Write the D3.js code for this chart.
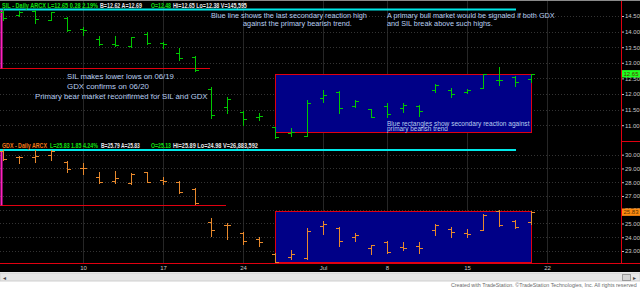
<!DOCTYPE html>
<html>
<head>
<meta charset="utf-8">
<script src="https://cdn.jsdelivr.net/npm/d3@7"></script>
<style>
  html, body { margin: 0; padding: 0; background: #fff; }
  svg { display: block; font-family: "Liberation Sans", Arial, sans-serif; }
</style>
</head>
<body>
<div id="chart"></div>
<script>
// trading days 03 Jun - 19 Jul 2013 (04 Jul holiday is not a bar)
const days = ['06/03','06/04','06/05','06/06','06/07',
  '06/10','06/11','06/12','06/13','06/14',
  '06/17','06/18','06/19','06/20','06/21',
  '06/24','06/25','06/26','06/27','06/28',
  '07/01','07/02','07/03','07/05',
  '07/08','07/09','07/10','07/11','07/12',
  '07/15','07/16','07/17','07/18','07/19'];

// SIL daily OHLC
const silOpen  = [14.62,14.52,14.66,14.38,14.45, 14.07,13.76,13.60,13.53,13.93, 13.65,13.30,13.20,12.15,11.59, 11.42,11.26,10.93,10.76,10.65, 11.86,12.07,11.62,11.51, 11.62,11.54,11.62,12.13,12.14, 12.06,12.18,12.45,12.54,12.48];
const silHigh  = [14.72,14.66,14.69,14.64,14.48, 14.16,13.86,13.86,13.84,13.99, 13.67,13.47,13.22,12.22,11.90, 11.46,11.39,10.95,10.91,11.81, 12.13,12.10,11.81,11.53, 11.71,11.71,11.65,12.32,12.18, 12.15,12.64,12.88,12.58,12.65];
const silLow   = [14.37,14.50,14.28,14.37,14.02, 13.89,13.57,13.54,13.52,13.60, 13.47,13.09,12.75,11.22,11.39, 11.00,11.17,10.59,10.65,10.64, 11.75,11.38,11.57,11.25, 11.27,11.43,11.30,12.07,11.89, 12.02,12.18,12.29,12.27,12.38];
const silClose = [14.42,14.62,14.40,14.62,14.04, 14.06,13.59,13.57,13.83,13.62, 13.60,13.15,12.77,11.33,11.85, 11.20,11.30,10.62,10.78,11.72, 11.97,11.54,11.78,11.27, 11.36,11.64,11.47,12.29,12.00, 12.13,12.64,12.45,12.40,12.65];

// GDX daily OHLC
const gdxOpen  = [30.30,29.80,29.81,29.98,29.45, 29.06,28.36,28.09,27.92,28.72, 28.16,27.99,27.50,25.13,24.89, 24.29,23.85,22.78,22.59,22.47, 24.85,24.70,24.04,23.25, 23.68,23.31,23.36,24.53,24.58, 24.29,24.53,25.92,25.18,25.13];
const gdxHigh  = [30.39,29.90,30.34,30.34,29.56, 29.37,28.72,28.82,28.65,28.76, 28.36,28.11,27.60,25.38,25.01, 24.36,24.00,22.83,23.07,24.65, 25.18,24.77,24.29,23.42, 23.73,23.63,23.63,24.94,24.72, 24.58,25.67,25.98,25.25,25.89];
const gdxLow   = [29.61,29.37,29.45,29.61,28.72, 28.57,27.97,27.97,27.87,27.99, 27.87,27.24,26.40,24.09,23.87, 23.49,23.37,22.15,22.40,22.42, 24.22,23.37,23.73,22.76, 22.88,23.07,22.88,24.16,24.04, 24.04,24.53,24.84,24.65,24.98];
const gdxClose = [29.69,29.84,29.93,30.27,28.94, 29.00,28.04,28.33,28.58,28.04, 28.09,27.31,26.47,24.53,24.89, 23.73,23.68,22.17,22.78,24.48, 24.95,23.73,24.16,23.40, 22.91,23.20,23.20,24.89,24.40, 24.24,25.62,24.86,24.72,25.83];

// axis ticks
const dateTicks  = ['06/10','06/17','06/24','07/01','07/08','07/15','07/22'];
const dateLabels = ['10','17','24','Jul','8','15','22'];
const silTicks = [11, 11.5, 12, 12.5, 13, 13.5, 14, 14.5];
const gdxTicks = [23, 24, 25, 26, 27, 28, 29, 30];

// drawn levels: [cyan reaction high, prior low, box top, box bottom]
const silLevels = [14.71, 12.82, 12.63, 10.77];
const gdxLevels = [30.34, 26.32, 25.89, 22.15];

const W = 640, H = 289, plotR = 621, plotB = 263;

const svg = d3.select('#chart').append('svg')
    .attr('width', W).attr('height', H);

svg.append('rect').attr('width', W).attr('height', H).attr('fill', '#fff');
svg.append('rect').attr('width', W).attr('height', 272).attr('fill', '#000');
svg.append('rect').attr('width', W).attr('height', 1).attr('fill', '#8a8a8a');

// x: one slot per trading day, plus the empty 22 Jul slot
const x = d3.scalePoint().domain(days.concat(['07/22'])).range([3, 547]);
const ySil = d3.scaleLinear().domain([11, 14.5]).range([125.2, 16]);
const yGdx = d3.scaleLinear().domain([23, 30]).range([251, 154.7]);

const px = v => Math.round(v) + 0.5;

// squeeze a text horizontally so that it spans exactly w pixels
function fitText(sel) {
  sel.each(function(d) {
    const natural = this.getComputedTextLength();
    d3.select(this).attr('transform', `translate(${d.x},${d.y}) scale(${d.w / natural},1)`);
  });
}

// vertical grid
svg.append('g').selectAll('line')
    .data(dateTicks)
    .join('line')
    .attr('x1', d => px(x(d))).attr('x2', d => px(x(d)))
    .attr('y1', 1).attr('y2', plotB)
    .attr('stroke', '#262626');

function panel(y, ticks, levels, lowEnd, op, hi, lo, cl, barColor, lastColor) {
  const g = svg.append('g');

  // horizontal grid
  g.selectAll('.hg')
      .data(ticks)
      .join('line')
      .attr('class', 'hg')
      .attr('x1', 0).attr('x2', plotR)
      .attr('y1', d => px(y(d))).attr('y2', d => px(y(d)))
      .attr('stroke', '#333')
      .attr('stroke-dasharray', '1,2');

  // blue box for the secondary reaction
  const bx0 = x('06/26'), bx1 = x('07/19');
  g.append('rect')
      .attr('x', px(bx0)).attr('y', px(y(levels[2])))
      .attr('width', Math.round(bx1 - bx0))
      .attr('height', Math.round(y(levels[3]) - y(levels[2])))
      .attr('fill', '#000087')
      .attr('stroke', '#e00010');

  // cyan reaction-high line
  g.append('line')
      .attr('x1', 0).attr('x2', x('07/18') + 1)
      .attr('y1', y(levels[0])).attr('y2', y(levels[0]))
      .attr('stroke', '#00e8e8').attr('stroke-width', 2);

  // prior low line and its left edge
  g.append('line')
      .attr('x1', 0).attr('x2', x(lowEnd) - 1)
      .attr('y1', px(y(levels[1]))).attr('y2', px(y(levels[1])))
      .attr('stroke', '#e00010');
  g.append('line')
      .attr('x1', 1.5).attr('x2', 1.5)
      .attr('y1', y(levels[0]) + 1).attr('y2', y(levels[1]))
      .attr('stroke', '#ff20c0').attr('stroke-width', 2);

  // OHLC bars
  g.selectAll('.bar')
      .data(days)
      .join('path')
      .attr('class', 'bar')
      .attr('fill', 'none')
      .attr('stroke', barColor)
      .attr('d', (d, i) => {
        const cx = px(x(d));
        return `M${cx},${Math.round(y(hi[i]))}V${Math.round(y(lo[i])) + 1}` +
               `M${cx - 3.5},${px(y(op[i]))}H${cx}` +
               `M${cx},${px(y(cl[i]))}H${cx + 3.5}`;
      });

  // price axis
  const ax = g.append('g')
      .attr('transform', `translate(${plotR},0)`)
      .call(d3.axisRight(y).tickValues(ticks).tickFormat(d3.format('.2f')).tickSize(3).tickPadding(1));
  ax.select('.domain').remove();
  ax.selectAll('line').attr('stroke', '#c0c0c0');
  ax.selectAll('text').attr('fill', '#c8c8c8').style('font-size', '6px');

  // last price flag
  const last = cl[cl.length - 1];
  g.append('rect')
      .attr('x', plotR + 1).attr('y', y(last) - 3.6)
      .attr('width', 18).attr('height', 7.4)
      .attr('fill', lastColor);
  g.append('text')
      .attr('x', plotR + 10).attr('y', y(last) + 2.2)
      .attr('text-anchor', 'middle')
      .attr('fill', '#553300')
      .style('font-size', '6px')
      .text(d3.format('.2f')(last));
}

panel(ySil, silTicks, silLevels, '06/20', silOpen, silHigh, silLow, silClose, '#00c800', '#20ff20');
panel(yGdx, gdxTicks, gdxLevels, '06/21', gdxOpen, gdxHigh, gdxLow, gdxClose, '#e8892c', '#ff8a10');

// frame lines
svg.append('line').attr('x1', plotR + 0.5).attr('x2', plotR + 0.5).attr('y1', 1).attr('y2', plotB)
    .attr('stroke', '#e00010');
svg.append('line').attr('x1', plotR).attr('x2', W).attr('y1', 141.5).attr('y2', 141.5)
    .attr('stroke', '#e00010');
svg.append('line').attr('x1', 0).attr('x2', W).attr('y1', plotB + 0.5).attr('y2', plotB + 0.5)
    .attr('stroke', '#e00010');

// date axis
const dax = svg.append('g')
    .attr('transform', `translate(0,${plotB})`)
    .call(d3.axisBottom(x).tickValues(dateTicks)
        .tickFormat(d => dateLabels[dateTicks.indexOf(d)]).tickSize(0).tickPadding(3));
dax.select('.domain').remove();
dax.selectAll('text').attr('fill', '#c8c8c8').style('font-size', '6px');

// headers
const headerParts = [
  {t: 'SIL - Daily ARCX L=12.65 0.28 2.19%', c: '#10e010', x: 2, y: 7.5, w: 96},
  {t: 'B=12.62 A=12.69', c: '#e8e8e8', x: 100, y: 7.5, w: 42},
  {t: 'O=12.48', c: '#10e010', x: 151, y: 7.5, w: 20},
  {t: 'Hi=12.65 Lo=12.38 V=145,595', c: '#e8e8e8', x: 173, y: 7.5, w: 74},
  {t: 'GDX - Daily ARCX', c: '#f07818', x: 2, y: 147.5, w: 45},
  {t: 'L=25.83 1.85 4.24%', c: '#10e010', x: 50, y: 147.5, w: 48},
  {t: 'B=25.79 A=25.83', c: '#e8e8e8', x: 101, y: 147.5, w: 39},
  {t: 'O=25.13', c: '#10e010', x: 151, y: 147.5, w: 20},
  {t: 'Hi=25.89 Lo=24.98 V=26,883,592', c: '#e8e8e8', x: 173, y: 147.5, w: 85}
];
svg.append('g').selectAll('text')
    .data(headerParts)
    .join('text')
    .attr('fill', d => d.c)
    .style('font-size', '7px').style('font-weight', 'bold')
    .text(d => d.t)
    .call(fitText);

// annotations
const notes = [
  {t: 'Blue line shows the last secondary reaction high', x: 211, y: 17.5, w: 156, s: 8},
  {t: 'against the primary bearish trend.', x: 243, y: 25.5, w: 109, s: 8},
  {t: 'A primary bull market would be signaled if both GDX', x: 387, y: 17.5, w: 168, s: 8},
  {t: 'and SIL break above such highs.', x: 387, y: 26, w: 106, s: 8},
  {t: 'SIL makes lower lows on 06/19', x: 67, y: 78.5, w: 107, s: 8},
  {t: 'GDX confirms on 06/20', x: 67, y: 88.5, w: 82, s: 8},
  {t: 'Primary bear market reconfirmed for SIL and GDX', x: 35, y: 98.5, w: 173, s: 8},
  {t: 'Blue rectangles show secondary reaction against', x: 387, y: 125.5, w: 143, s: 6.5},
  {t: 'primary bearish trend', x: 387, y: 131, w: 61, s: 6.5}
];
svg.append('g').selectAll('text')
    .data(notes)
    .join('text')
    .attr('fill', '#b8cef0')
    .style('font-size', d => d.s + 'px')
    .text(d => d.t)
    .call(fitText);

// scroll bar strip
svg.append('rect').attr('x', 0).attr('y', 273).attr('width', W).attr('height', 8)
    .attr('fill', '#e6e6e6').attr('stroke', '#cfcfcf');
svg.append('text').attr('x', 3).attr('y', 279.5).attr('fill', '#404040')
    .style('font-size', '6px').text('\u25C2');
svg.append('rect').attr('x', 622.5).attr('y', 274.5).attr('width', 8).attr('height', 6)
    .attr('fill', '#d4d4d4').attr('stroke', '#9a9a9a');
svg.append('text').attr('x', 633).attr('y', 279.5).attr('fill', '#404040')
    .style('font-size', '6px').text('\u25B8');

svg.append('g').selectAll('text')
    .data([{t: 'Created with TradeStation. \u00A9TradeStation Technologies, Inc. All rights reserved', x: 451, y: 287, w: 186}])
    .join('text')
    .attr('fill', '#6a6a6a')
    .style('font-size', '6px')
    .text(d => d.t)
    .call(fitText);
</script>
</body>
</html>
